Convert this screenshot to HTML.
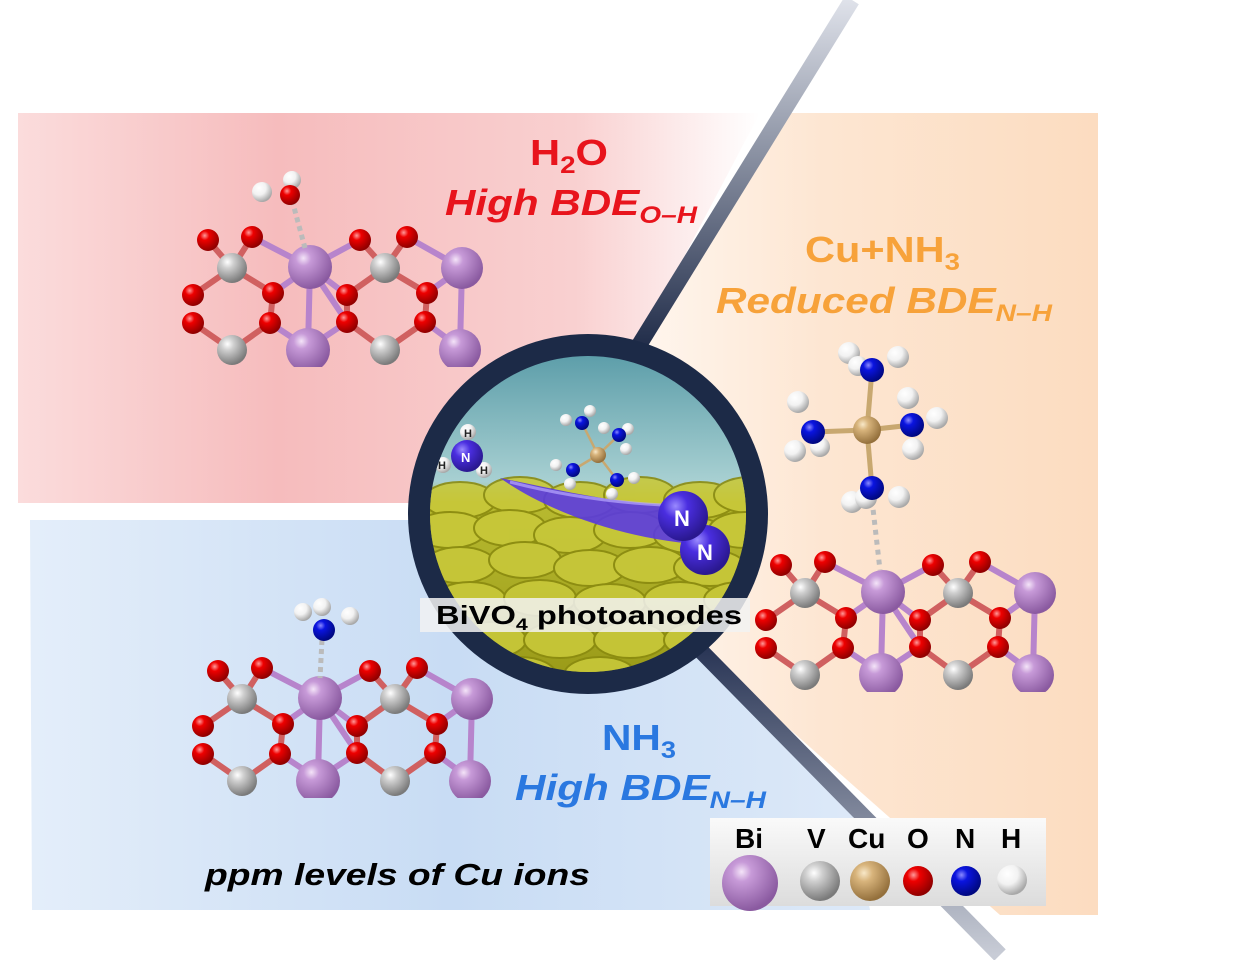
<!DOCTYPE html>
<html><head><meta charset="utf-8"><style>
html,body{margin:0;padding:0;background:#fff;}
svg{display:block;}
text{font-family:"Liberation Sans",sans-serif;font-weight:bold;}
</style></head><body>
<svg width="1236" height="960" viewBox="0 0 1236 960" xmlns="http://www.w3.org/2000/svg">
<defs>
<linearGradient id="gRed" x1="0" y1="0" x2="1" y2="0">
<stop offset="0" stop-color="#fbdcdc"/><stop offset="0.35" stop-color="#f6bcbd"/><stop offset="0.75" stop-color="#f9d0d0"/><stop offset="1" stop-color="#fff"/></linearGradient>
<linearGradient id="gOr" x1="0" y1="0" x2="1" y2="0">
<stop offset="0" stop-color="#fff6ee"/><stop offset="0.4" stop-color="#fde6d2"/><stop offset="1" stop-color="#fcdcc0"/></linearGradient>
<linearGradient id="gBl" x1="0" y1="0" x2="1" y2="0">
<stop offset="0" stop-color="#e4eefa"/><stop offset="0.5" stop-color="#c8dcf4"/><stop offset="1" stop-color="#dde9f8"/></linearGradient>
<linearGradient id="gLine1" x1="0" y1="0" x2="1" y2="0">
<stop offset="0" stop-color="#fff" stop-opacity="0"/><stop offset="1" stop-color="#26324f"/></linearGradient>
<linearGradient id="gLine2" x1="0" y1="1" x2="0" y2="0">
<stop offset="0" stop-color="#1f2b48"/><stop offset="1" stop-color="#dfe2ea"/></linearGradient>
<linearGradient id="gLine3" x1="0" y1="0" x2="0" y2="1">
<stop offset="0" stop-color="#2a3656"/><stop offset="1" stop-color="#c8ccd6"/></linearGradient>
<radialGradient id="aBi" cx="0.35" cy="0.3" r="0.7"><stop offset="0" stop-color="#f4e4f8"/><stop offset="0.25" stop-color="#c79ad8"/><stop offset="1" stop-color="#8a5aa0"/></radialGradient>
<radialGradient id="aV" cx="0.35" cy="0.3" r="0.7"><stop offset="0" stop-color="#fff"/><stop offset="0.3" stop-color="#cfcfcf"/><stop offset="1" stop-color="#7a7a7a"/></radialGradient>
<radialGradient id="aO" cx="0.35" cy="0.3" r="0.7"><stop offset="0" stop-color="#ff9a9a"/><stop offset="0.3" stop-color="#ee0000"/><stop offset="1" stop-color="#900000"/></radialGradient>
<radialGradient id="aN" cx="0.35" cy="0.3" r="0.7"><stop offset="0" stop-color="#8a8aff"/><stop offset="0.3" stop-color="#0a14e0"/><stop offset="1" stop-color="#000880"/></radialGradient>
<radialGradient id="aH" cx="0.35" cy="0.3" r="0.7"><stop offset="0" stop-color="#fff"/><stop offset="0.5" stop-color="#f2f2f2"/><stop offset="1" stop-color="#a8a8a8"/></radialGradient>
<radialGradient id="aCu" cx="0.35" cy="0.3" r="0.7"><stop offset="0" stop-color="#f8e8c8"/><stop offset="0.3" stop-color="#d8b47c"/><stop offset="1" stop-color="#94703c"/></radialGradient>
<radialGradient id="aN2" cx="0.35" cy="0.3" r="0.7"><stop offset="0" stop-color="#9a8aff"/><stop offset="0.35" stop-color="#4a2ee0"/><stop offset="1" stop-color="#2a1890"/></radialGradient>
<linearGradient id="gIn" x1="0" y1="0" x2="0" y2="1">
<stop offset="0" stop-color="#5a9ca8"/><stop offset="0.4" stop-color="#a8d0d2"/><stop offset="0.46" stop-color="#b8ba30"/><stop offset="1" stop-color="#9a9a18"/></linearGradient>
<linearGradient id="gLeg" x1="0" y1="0" x2="0" y2="1"><stop offset="0" stop-color="#fafafa"/><stop offset="1" stop-color="#dcdcdc"/></linearGradient>
<clipPath id="cIn"><circle cx="588" cy="514" r="158"/></clipPath>
<clipPath id="cSlab"><rect x="150" y="160" width="360" height="207"/></clipPath>
<g id="slab">
 <g stroke-width="6" stroke-linecap="round">
  <g stroke="#d06060">
  <line x1="208" y1="240" x2="232" y2="268"/><line x1="252" y1="237" x2="232" y2="268"/><line x1="193" y1="295" x2="232" y2="268"/><line x1="273" y1="293" x2="232" y2="268"/>
  <line x1="193" y1="323" x2="232" y2="350"/><line x1="270" y1="323" x2="232" y2="350"/>
  <line x1="360" y1="240" x2="385" y2="268"/><line x1="407" y1="237" x2="385" y2="268"/><line x1="347" y1="295" x2="385" y2="268"/><line x1="427" y1="293" x2="385" y2="268"/>
  <line x1="347" y1="322" x2="385" y2="350"/><line x1="425" y1="322" x2="385" y2="350"/>
  <line x1="273" y1="293" x2="270" y2="323"/><line x1="347" y1="295" x2="347" y2="322"/><line x1="427" y1="293" x2="425" y2="322"/>
  </g>
  <g stroke="#b784cc">
  <line x1="252" y1="237" x2="310" y2="267"/><line x1="360" y1="240" x2="310" y2="267"/><line x1="273" y1="293" x2="310" y2="267"/><line x1="347" y1="295" x2="310" y2="267"/>
  <line x1="310" y1="267" x2="308" y2="348"/><line x1="310" y1="267" x2="347" y2="322"/><line x1="270" y1="323" x2="308" y2="348"/>
  <line x1="407" y1="237" x2="462" y2="268"/><line x1="427" y1="293" x2="462" y2="268"/><line x1="462" y1="268" x2="460" y2="348"/><line x1="425" y1="322" x2="460" y2="348"/>
  <line x1="347" y1="322" x2="308" y2="348"/>
  </g>
 </g>
 <g>
  <circle cx="232" cy="268" r="15" fill="url(#aV)"/><circle cx="385" cy="268" r="15" fill="url(#aV)"/>
  <circle cx="232" cy="350" r="15" fill="url(#aV)"/><circle cx="385" cy="350" r="15" fill="url(#aV)"/>
  <circle cx="310" cy="267" r="22" fill="url(#aBi)"/><circle cx="462" cy="268" r="21" fill="url(#aBi)"/>
  <circle cx="308" cy="350" r="22" fill="url(#aBi)"/><circle cx="460" cy="350" r="21" fill="url(#aBi)"/>
  <g fill="url(#aO)">
  <circle cx="208" cy="240" r="11"/><circle cx="252" cy="237" r="11"/><circle cx="193" cy="295" r="11"/><circle cx="273" cy="293" r="11"/>
  <circle cx="193" cy="323" r="11"/><circle cx="270" cy="323" r="11"/><circle cx="360" cy="240" r="11"/><circle cx="407" cy="237" r="11"/>
  <circle cx="347" cy="295" r="11"/><circle cx="427" cy="293" r="11"/><circle cx="347" cy="322" r="11"/><circle cx="425" cy="322" r="11"/>
  </g>
 </g>
</g>
</defs>

<polygon points="18,113 760,113 640,340 560,503 18,503" fill="url(#gRed)"/>
<polygon points="782,113 1098,113 1098,915 1000,915 700,650 640,340" fill="url(#gOr)"/>
<polygon points="30,520 440,520 700,650 850,800 870,910 32,910" fill="url(#gBl)"/>

<line x1="0" y1="512" x2="430" y2="512" stroke="url(#gLine1)" stroke-width="20"/>
<line x1="636" y1="350" x2="852" y2="0" stroke="url(#gLine2)" stroke-width="16"/>
<line x1="700" y1="650" x2="1000" y2="955" stroke="url(#gLine3)" stroke-width="16"/>

<g clip-path="url(#cSlab)"><use href="#slab"/></g>
<line x1="292" y1="200" x2="305" y2="248" stroke="#bbb" stroke-width="5" stroke-dasharray="5,4"/>
<circle cx="292" cy="180" r="9" fill="url(#aH)"/><circle cx="262" cy="192" r="10" fill="url(#aH)"/><circle cx="290" cy="195" r="10" fill="url(#aO)"/>

<g transform="translate(573,325)"><g clip-path="url(#cSlab)"><use href="#slab"/></g></g>
<line x1="872" y1="500" x2="880" y2="570" stroke="#bbb" stroke-width="5" stroke-dasharray="5,5"/>
<g stroke="#c8a870" stroke-width="5"><line x1="867" y1="430" x2="872" y2="370"/><line x1="867" y1="430" x2="813" y2="432"/><line x1="867" y1="430" x2="912" y2="425"/><line x1="867" y1="430" x2="872" y2="488"/></g>
<g fill="url(#aH)">
<circle cx="849" cy="353" r="11"/><circle cx="898" cy="357" r="11"/><circle cx="858" cy="366" r="10"/>
<circle cx="798" cy="402" r="11"/><circle cx="795" cy="451" r="11"/><circle cx="820" cy="447" r="10"/>
<circle cx="908" cy="398" r="11"/><circle cx="937" cy="418" r="11"/><circle cx="913" cy="449" r="11"/>
<circle cx="852" cy="502" r="11"/><circle cx="866" cy="498" r="11"/><circle cx="899" cy="497" r="11"/>
</g>
<g fill="url(#aN)"><circle cx="872" cy="370" r="12"/><circle cx="813" cy="432" r="12"/><circle cx="912" cy="425" r="12"/><circle cx="872" cy="488" r="12"/></g>
<circle cx="867" cy="430" r="14" fill="url(#aCu)"/>

<g transform="translate(10,431)"><g clip-path="url(#cSlab)"><use href="#slab"/></g></g>
<line x1="322" y1="640" x2="320" y2="678" stroke="#bbb" stroke-width="5" stroke-dasharray="5,4"/>
<circle cx="303" cy="612" r="9" fill="url(#aH)"/><circle cx="322" cy="607" r="9" fill="url(#aH)"/><circle cx="350" cy="616" r="9" fill="url(#aH)"/>
<circle cx="324" cy="630" r="11" fill="url(#aN)"/>

<circle cx="588" cy="514" r="180" fill="#1c2a47"/>
<g clip-path="url(#cIn)">
<rect x="420" y="350" width="340" height="330" fill="url(#gIn)"/>
<g fill="#c8c83a" stroke="#8a8a10" stroke-width="2" opacity="0.9">
<ellipse cx="460" cy="500" rx="36" ry="18"/><ellipse cx="520" cy="495" rx="36" ry="18"/><ellipse cx="580" cy="500" rx="36" ry="18"/><ellipse cx="640" cy="495" rx="36" ry="18"/><ellipse cx="700" cy="500" rx="36" ry="18"/><ellipse cx="750" cy="495" rx="36" ry="18"/>
<ellipse cx="450" cy="530" rx="36" ry="18"/><ellipse cx="510" cy="528" rx="36" ry="18"/><ellipse cx="570" cy="535" rx="36" ry="18"/><ellipse cx="630" cy="530" rx="36" ry="18"/><ellipse cx="690" cy="535" rx="36" ry="18"/><ellipse cx="745" cy="530" rx="36" ry="18"/>
<ellipse cx="460" cy="565" rx="36" ry="18"/><ellipse cx="525" cy="560" rx="36" ry="18"/><ellipse cx="590" cy="568" rx="36" ry="18"/><ellipse cx="650" cy="565" rx="36" ry="18"/><ellipse cx="710" cy="568" rx="36" ry="18"/>
<ellipse cx="470" cy="600" rx="36" ry="18"/><ellipse cx="540" cy="598" rx="36" ry="18"/><ellipse cx="610" cy="602" rx="36" ry="18"/><ellipse cx="680" cy="600" rx="36" ry="18"/><ellipse cx="740" cy="600" rx="36" ry="18"/>
<ellipse cx="490" cy="640" rx="36" ry="18"/><ellipse cx="560" cy="640" rx="36" ry="18"/><ellipse cx="630" cy="640" rx="36" ry="18"/><ellipse cx="700" cy="640" rx="36" ry="18"/>
<ellipse cx="520" cy="675" rx="36" ry="18"/><ellipse cx="600" cy="675" rx="36" ry="18"/><ellipse cx="680" cy="675" rx="36" ry="18"/>
</g>
<path d="M500,478 C560,490 620,505 680,505 L720,545 C650,545 560,520 500,478 Z" fill="#5a3ae0" opacity="0.9"/>
<path d="M510,482 C580,500 640,505 690,506" stroke="#b8a8ff" stroke-width="3" fill="none" opacity="0.7"/>
<circle cx="705" cy="550" r="25" fill="url(#aN2)"/><circle cx="683" cy="516" r="25" fill="url(#aN2)"/>
<text x="674" y="526" font-size="22" fill="#fff">N</text><text x="697" y="560" font-size="22" fill="#fff">N</text>
<circle cx="468" cy="432" r="8" fill="url(#aH)"/><circle cx="443" cy="465" r="8" fill="url(#aH)"/><circle cx="484" cy="470" r="8" fill="url(#aH)"/>
<circle cx="467" cy="456" r="16" fill="url(#aN2)"/>
<text x="461" y="462" font-size="13" fill="#fff">N</text>
<text x="464" y="437" font-size="11" fill="#222">H</text><text x="438" y="469" font-size="11" fill="#222">H</text><text x="480" y="474" font-size="11" fill="#222">H</text>
<g stroke="#c8a870" stroke-width="2.5"><line x1="598" y1="455" x2="582" y2="423"/><line x1="598" y1="455" x2="619" y2="435"/><line x1="598" y1="455" x2="573" y2="470"/><line x1="598" y1="455" x2="617" y2="480"/></g>
<g fill="url(#aH)"><circle cx="590" cy="411" r="6"/><circle cx="566" cy="420" r="6"/><circle cx="604" cy="428" r="6"/><circle cx="628" cy="429" r="6"/><circle cx="626" cy="449" r="6"/><circle cx="556" cy="465" r="6"/><circle cx="570" cy="484" r="6"/><circle cx="634" cy="478" r="6"/><circle cx="612" cy="494" r="6"/></g>
<g fill="url(#aN)"><circle cx="582" cy="423" r="7"/><circle cx="619" cy="435" r="7"/><circle cx="573" cy="470" r="7"/><circle cx="617" cy="480" r="7"/></g>
<circle cx="598" cy="455" r="8" fill="url(#aCu)"/>
</g>
<rect x="420" y="598" width="330" height="34" fill="#f2f2f2" opacity="0.85"/>
<text x="436" y="624" font-size="26" fill="#000" textLength="306" lengthAdjust="spacingAndGlyphs">BiVO<tspan font-size="17" dy="6">4</tspan><tspan dy="-6"> photoanodes</tspan></text>

<text x="530" y="165" font-size="36" fill="#e8141c" textLength="78" lengthAdjust="spacingAndGlyphs">H<tspan font-size="24" dy="8">2</tspan><tspan dy="-8">O</tspan></text>
<text x="445" y="215" font-size="36" font-style="italic" fill="#e8141c" textLength="252" lengthAdjust="spacingAndGlyphs">High BDE<tspan font-size="24" dy="8">O–H</tspan></text>
<text x="805" y="262" font-size="36" fill="#f7a23a" textLength="155" lengthAdjust="spacingAndGlyphs">Cu+NH<tspan font-size="24" dy="8">3</tspan></text>
<text x="716" y="313" font-size="36" font-style="italic" fill="#f7a23a" textLength="336" lengthAdjust="spacingAndGlyphs">Reduced BDE<tspan font-size="24" dy="8">N–H</tspan></text>
<text x="602" y="750" font-size="36" fill="#2a78e0" textLength="74" lengthAdjust="spacingAndGlyphs">NH<tspan font-size="24" dy="8">3</tspan></text>
<text x="515" y="800" font-size="36" font-style="italic" fill="#2a78e0" textLength="251" lengthAdjust="spacingAndGlyphs">High BDE<tspan font-size="24" dy="8">N–H</tspan></text>
<text x="205" y="885" font-size="31" font-style="italic" fill="#000" textLength="385" lengthAdjust="spacingAndGlyphs">ppm levels of Cu ions</text>

<rect x="710" y="818" width="336" height="88" fill="url(#gLeg)"/>
<g font-size="28" fill="#000"><text x="735" y="848">Bi</text><text x="807" y="848">V</text><text x="848" y="848">Cu</text><text x="907" y="848">O</text><text x="955" y="848">N</text><text x="1001" y="848">H</text></g>
<circle cx="750" cy="883" r="28" fill="url(#aBi)"/><circle cx="820" cy="881" r="20" fill="url(#aV)"/><circle cx="870" cy="881" r="20" fill="url(#aCu)"/>
<circle cx="918" cy="881" r="15" fill="url(#aO)"/><circle cx="966" cy="881" r="15" fill="url(#aN)"/><circle cx="1012" cy="880" r="15" fill="url(#aH)"/>
</svg>
</body></html>
